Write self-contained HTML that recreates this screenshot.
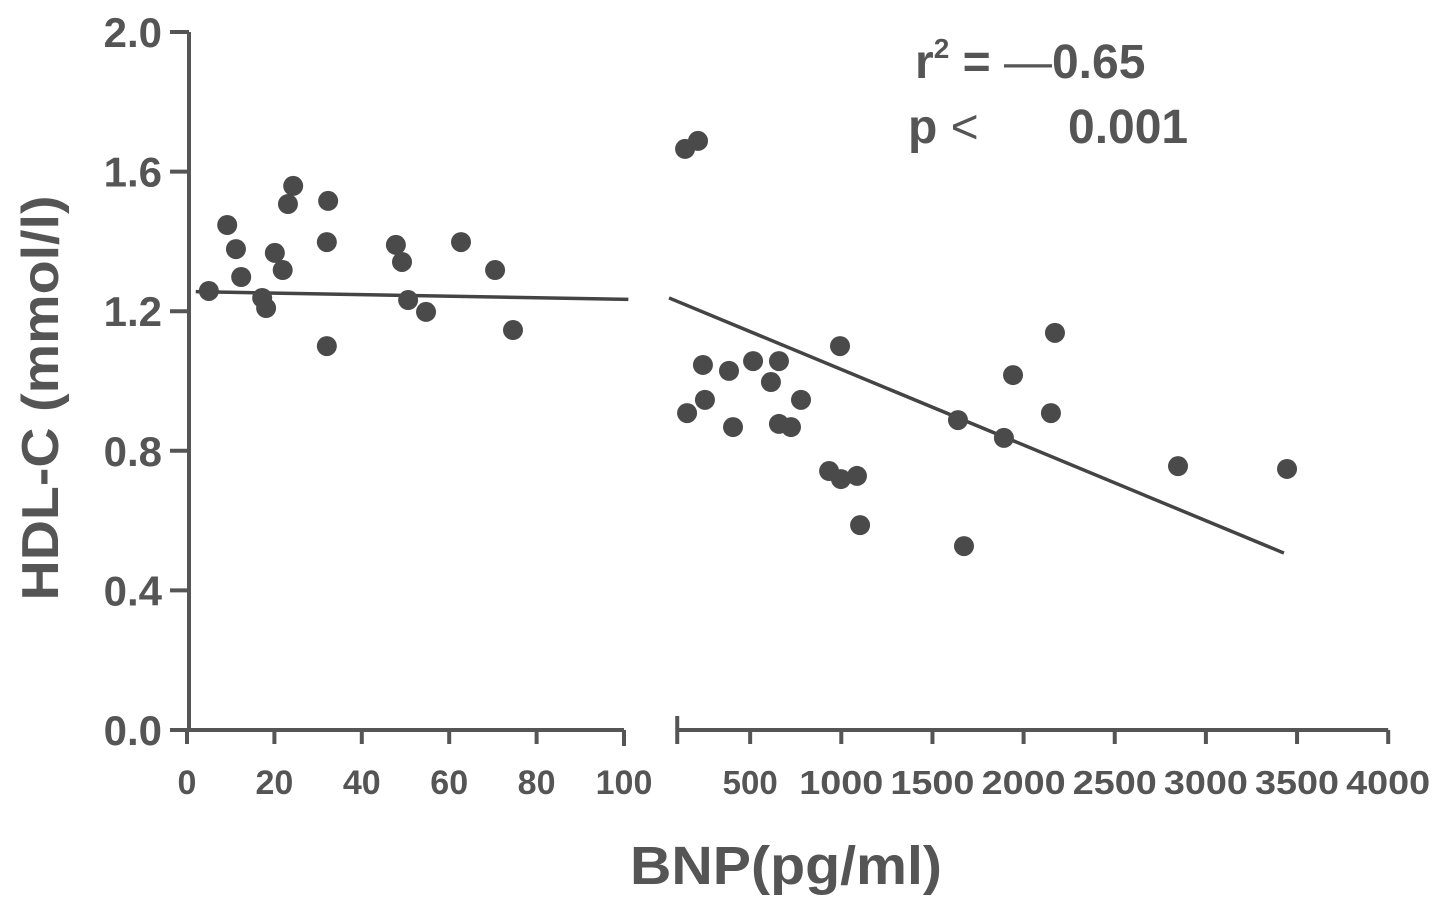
<!DOCTYPE html>
<html><head><meta charset="utf-8"><style>
body{margin:0;background:#fff}
svg text{font-family:"Liberation Sans",Arial,sans-serif;font-weight:bold;fill:#555}
</style></head><body>
<svg id="chart" width="1441" height="907" viewBox="0 0 1441 907" xmlns="http://www.w3.org/2000/svg">
<g id="axes"></g><g id="marks"></g>
<text transform="translate(58,398) rotate(-90)" text-anchor="middle" font-size="52" textLength="405" lengthAdjust="spacingAndGlyphs">HDL-C (mmol/l)</text>
<text x="786" y="884" text-anchor="middle" font-size="54" textLength="312" lengthAdjust="spacingAndGlyphs">BNP(pg/ml)</text>
<text x="915" y="78" font-size="48">r<tspan font-size="28" dy="-20">2</tspan><tspan dy="20"> = </tspan><tspan font-weight="normal">—</tspan>0.65</text>
<text x="908" y="143" font-size="48">p <tspan font-weight="normal">&lt;</tspan><tspan x="1068">0.001</tspan></text>
</svg>
<script>
const yTicks=[0.0,0.4,0.8,1.2,1.6,2.0];
const leftTicks=[0,20,40,60,80,100];
const rightTicks=[500,1000,1500,2000,2500,3000,3500,4000];
const leftX=[5.0,9.2,11.2,12.4,17.2,18.1,20.1,21.9,23.1,24.3,32.0,32.3,32.0,47.8,49.2,50.6,54.7,62.7,70.5,74.6];
const leftY=[1.258,1.447,1.378,1.298,1.238,1.209,1.367,1.318,1.507,1.559,1.100,1.516,1.398,1.390,1.341,1.232,1.198,1.398,1.318,1.146];
const rightX=[143,214,154,241,252,384,406,516,614,658,658,724,779,933,998,993,1086,1103,1640,1673,1892,1942,2150,2172,2847,3445];
const rightY=[1.665,1.688,0.908,1.046,0.946,1.029,0.868,1.057,0.997,1.057,0.877,0.868,0.946,0.742,0.719,1.100,0.728,0.587,0.888,0.527,0.837,1.017,0.908,1.138,0.756,0.748];
const leftFitX=[2,101];
const leftFitY=[1.256,1.234];
const rightFitX=[55,3428];
const rightFitY=[1.238,0.507];

const NS="http://www.w3.org/2000/svg";
const yS=v=>730-v*349;
const xL=v=>187+v*4.37;
const xR=v=>659+v*0.1823;
const axes=document.getElementById('axes'),marks=document.getElementById('marks');
function mk(tag,attrs,parent){const e=document.createElementNS(NS,tag);for(const k in attrs)e.setAttribute(k,attrs[k]);parent.appendChild(e);return e;}
const st={stroke:'#555','stroke-width':4,fill:'none'};
let e=mk('line',Object.assign({x1:189,y1:32,x2:189,y2:731},st),axes);


yTicks.forEach(t=>{
 mk('line',Object.assign({x1:170,y1:yS(t),x2:189,y2:yS(t)},st),axes);
 const tx=mk('text',{x:162,y:yS(t)+15,'text-anchor':'end','font-size':42},axes);tx.textContent=t.toFixed(1);
 
 
});
e=mk('line',Object.assign({x1:187,y1:730,x2:xL(100),y2:730},st),axes);


leftTicks.forEach(t=>{
 mk('line',Object.assign({x1:xL(t),y1:730,x2:xL(t),y2:t==100?746:744},st),axes);
 const tx=mk('text',{x:xL(t),y:794,'text-anchor':'middle','font-size':34},axes);tx.textContent=t;
 
 
});
e=mk('line',Object.assign({x1:xR(100),y1:730,x2:xR(4000),y2:730},st),axes);


mk('line',Object.assign({x1:xR(100),y1:716,x2:xR(100),y2:744},st),axes);
rightTicks.forEach(t=>{
 mk('line',Object.assign({x1:xR(t),y1:730,x2:xR(t),y2:744},st),axes);
 const tx=mk('text',{x:xR(t),y:794,'text-anchor':'middle','font-size':33},axes);tx.textContent=t;
 if(t>=1000){tx.setAttribute('textLength',84);tx.setAttribute('lengthAdjust','spacingAndGlyphs');}
 
 
});
e=mk('line',{x1:xL(leftFitX[0]),y1:yS(leftFitY[0]),x2:xL(leftFitX[1]),y2:yS(leftFitY[1]),stroke:'#444','stroke-width':3.5},marks);


e=mk('line',{x1:xR(rightFitX[0]),y1:yS(rightFitY[0]),x2:xR(rightFitX[1]),y2:yS(rightFitY[1]),stroke:'#444','stroke-width':3.5},marks);


leftX.forEach((x,i)=>{
 const c=mk('circle',{cx:xL(x),cy:yS(leftY[i]),r:10,fill:'#4a4a4a'},marks);
 
 
});
rightX.forEach((x,i)=>{
 const c=mk('circle',{cx:xR(x),cy:yS(rightY[i]),r:10,fill:'#4a4a4a'},marks);
 
 
});
</script>
</body></html>
